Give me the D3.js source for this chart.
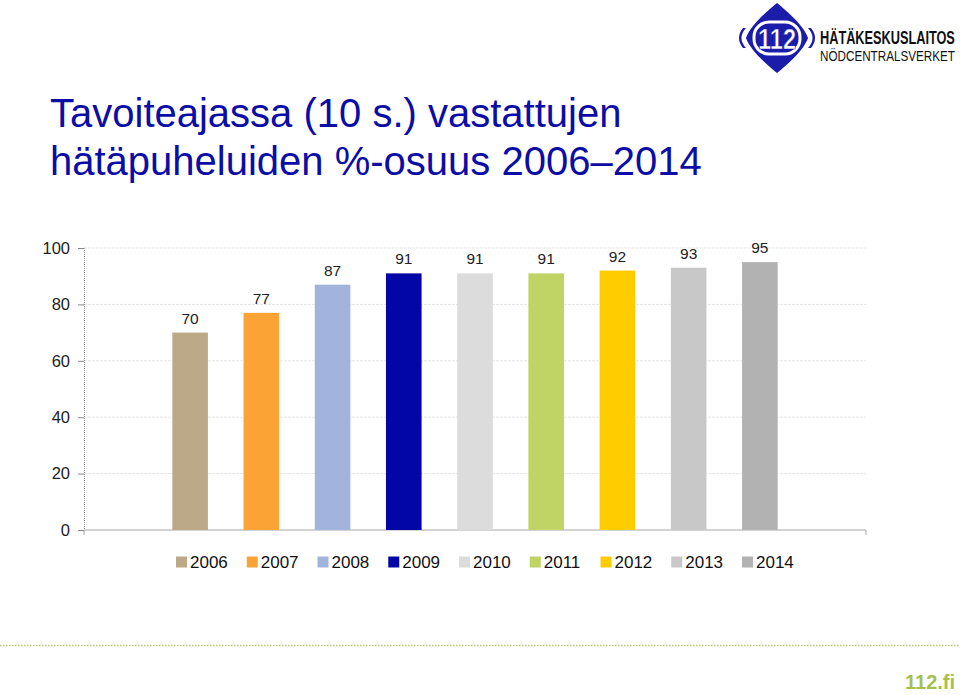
<!DOCTYPE html>
<html><head><meta charset="utf-8">
<script src="https://cdn.jsdelivr.net/npm/d3@7"></script>
<style>body{margin:0;background:#fff}svg{display:block}text{font-family:"Liberation Sans",Arial,sans-serif}</style>
</head><body><svg id="c" width="960" height="695"></svg>
<script>
const years = ["2006","2007","2008","2009","2010","2011","2012","2013","2014"];
const values = [70,77,87,91,91,91,92,93,95];
const colors = ["#bba987","#fba435","#a3b4dc","#0206a6","#dcdcdc","#c0d365","#ffcc00","#c8c8c8","#b2b2b2"];
const yTicks = [0,20,40,60,80,100];
const titleLines = ["Tavoiteajassa (10 s.) vastattujen","hätäpuheluiden %-osuus 2006\u20132014"];

(function(){
const svg = d3.select("#c");
const pL = 84, pR = 866, pT = 248, pB = 530;
const x = d3.scaleBand().domain(years).range([pL, pR]).paddingInner(0.5).paddingOuter(1.24);
const y = d3.scaleLinear().domain([0,100]).range([pB, pT]);

function squeeze(parent, tx, ty, w, txt, attrs){
  const g = parent.append("g");
  const t = g.append("text").attr("x",0).attr("y",0).text(txt);
  Object.entries(attrs).forEach(([k,v])=>t.attr(k,v));
  const cw = t.node().getComputedTextLength();
  g.attr("transform",`translate(${tx},${ty}) scale(${(w/cw).toFixed(3)},1)`);
  return g;
}

svg.selectAll("text.title").data(titleLines).join("text")
  .attr("class","title").attr("x",50).attr("y",(d,i)=>127+i*48)
  .attr("font-size",40).attr("fill","#0c0ca6").text(d=>d);

svg.append("g").selectAll("line").data(yTicks.filter(t=>t>0)).join("line")
  .attr("x1",pL).attr("x2",pR).attr("y1",d=>y(d)).attr("y2",d=>y(d))
  .attr("stroke","#e6e6e6").attr("stroke-width",1).attr("stroke-dasharray","3,1");

const ya = svg.append("g").attr("transform",`translate(${pL},0)`)
  .call(d3.axisLeft(y).tickValues(yTicks).tickSize(6).tickPadding(8));
ya.select(".domain").attr("stroke","#8a8a8a").attr("stroke-dasharray","1,1");
ya.selectAll(".tick line").attr("stroke","#8a8a8a");
ya.selectAll(".tick text").attr("font-size",16.5).attr("fill","#222").attr("font-family","Liberation Sans, Arial, sans-serif");

const xa = svg.append("g").attr("transform",`translate(0,${pB})`)
  .call(d3.axisBottom(x).tickSize(0).tickFormat(""));
xa.select(".domain").attr("stroke","#a8a8a8").attr("d",`M${pL},5V0H${pR}V5`);

svg.append("g").selectAll("rect").data(years).join("rect")
  .attr("x",d=>x(d)).attr("width",x.bandwidth())
  .attr("y",(d,i)=>y(values[i])).attr("height",(d,i)=>y(0)-y(values[i]))
  .attr("fill",(d,i)=>colors[i]);

svg.append("g").selectAll("text").data(years).join("text")
  .attr("x",d=>x(d)+x.bandwidth()/2).attr("y",(d,i)=>y(values[i])-9)
  .attr("text-anchor","middle").attr("font-size",15.5).attr("fill","#222")
  .text((d,i)=>values[i]);

const lg = svg.append("g").selectAll("g").data(years).join("g")
  .attr("transform",(d,i)=>`translate(${176+i*70.75},562)`);
lg.append("rect").attr("x",0).attr("y",-5.5).attr("width",11).attr("height",11).attr("fill",(d,i)=>colors[i]);
lg.append("text").attr("x",14).attr("y",6).attr("font-size",17).attr("fill","#111").text(d=>d);

const logo = svg.append("g").attr("transform","translate(777,38)");
logo.append("path").attr("d","M0,-35 C10,-27 27,-12 31,0 C27,12 10,27 0,35 C-10,27 -27,12 -31,0 C-27,-12 -10,-27 0,-35Z").attr("fill","#1c1caa");
logo.append("path").attr("d","M-31,-10 Q-40,0 -31,10 L-34,10 Q-42,0 -34,-10Z").attr("fill","#1c1caa");
logo.append("path").attr("d","M31,-10 Q40,0 31,10 L34,10 Q42,0 34,-10Z").attr("fill","#1c1caa");
logo.append("rect").attr("x",-23).attr("y",-16).attr("width",46).attr("height",32).attr("rx",15).attr("fill","none").attr("stroke","#fff").attr("stroke-width",3);
squeeze(logo, -19, 11, 38, "112", {"font-size":30,"font-weight":"bold","fill":"#fff","stroke":"#1c1caa","stroke-width":0.6});
squeeze(svg, 820, 44, 135, "HÄTÄKESKUSLAITOS", {"font-size":18,"font-weight":"bold","fill":"#111"});
squeeze(svg, 820, 61, 135, "NÖDCENTRALSVERKET", {"font-size":15,"fill":"#111"});

svg.append("line").attr("x1",0).attr("x2",960).attr("y1",645.5).attr("y2",645.5).attr("stroke","#b8cc70").attr("stroke-width",1.5).attr("stroke-dasharray","1.5,1.5");
squeeze(svg, 905, 689, 50, "112.fi", {"font-size":21,"font-weight":"bold","fill":"#a5c050"});
})();
</script></body></html>
